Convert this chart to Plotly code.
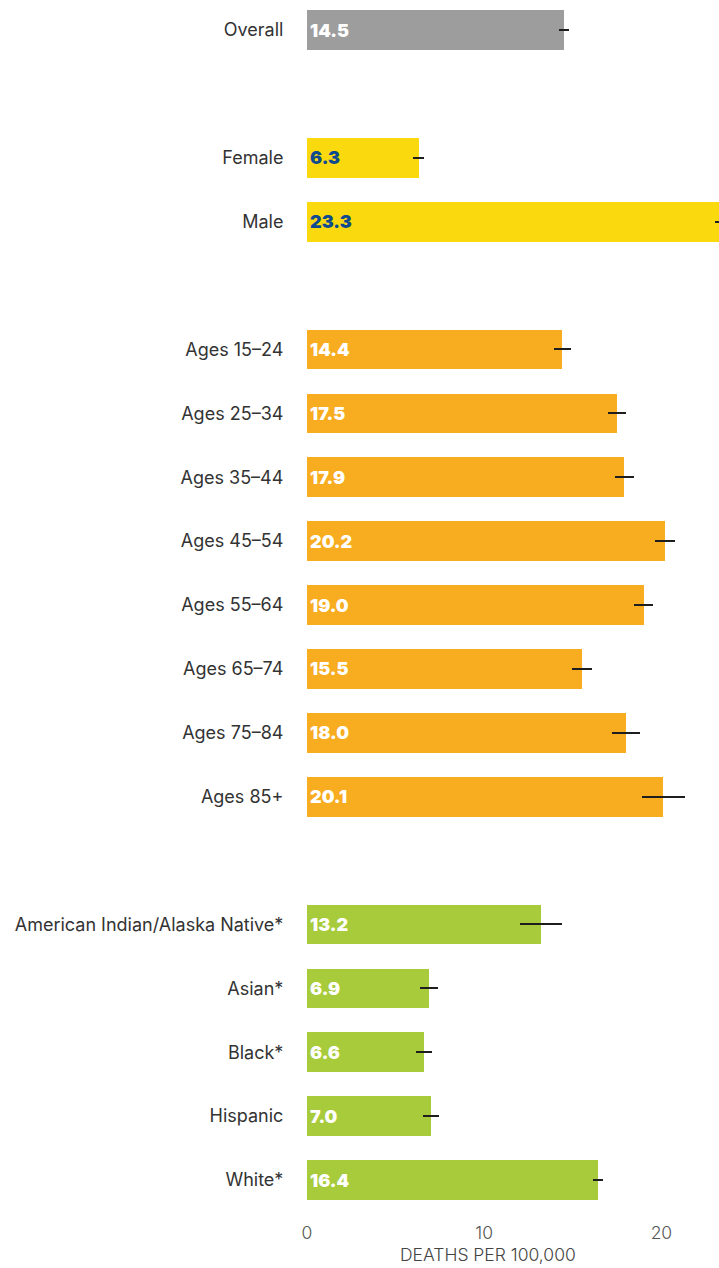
import plotly.graph_objects as go

# ---- data ----
overall_labels = ["Overall"]
overall_values = [14.5]
overall_errors = [0.22]

sex_labels = ["Female", "Male"]
sex_values = [6.3, 23.3]
sex_errors = [0.25, 0.22]

age_labels = ["Ages 15–24", "Ages 25–34", "Ages 35–44", "Ages 45–54",
              "Ages 55–64", "Ages 65–74", "Ages 75–84", "Ages 85+"]
age_values = [14.4, 17.5, 17.9, 20.2, 19.0, 15.5, 18.0, 20.1]
age_errors = [0.42, 0.45, 0.48, 0.53, 0.48, 0.50, 0.76, 1.15]

race_labels = ["American Indian/Alaska Native*", "Asian*", "Black*", "Hispanic", "White*"]
race_values = [13.2, 6.9, 6.6, 7.0, 16.4]
race_errors = [1.15, 0.45, 0.37, 0.37, 0.22]

x_ticks = [0, 10, 20]
x_title = "DEATHS PER 100,000"

groups = [
    (overall_labels, overall_values, overall_errors, "#9d9d9d", "#ffffff"),
    (sex_labels, sex_values, sex_errors, "#fad90f", "#0d4a8e"),
    (age_labels, age_values, age_errors, "#f8ac20", "#ffffff"),
    (race_labels, race_values, race_errors, "#a7cb3b", "#ffffff"),
]

fig = go.Figure()
tickvals, ticktext = [], []
slot = 0
for labels, values, errors, color, tcolor in groups:
    ys = list(range(slot, slot + len(labels)))
    fig.add_trace(go.Bar(
        x=values, y=ys, orientation="h",
        marker=dict(color=color, line=dict(width=0)),
        width=0.62,
        text=[f"{v:.1f}" for v in values],
        textposition="inside", insidetextanchor="start",
        textfont=dict(family="Inter", size=18, color=tcolor, weight=900),
        error_x=dict(type="data", array=errors, color="#1e1e1e", thickness=2, width=1),
        hoverinfo="skip", showlegend=False,
    ))
    tickvals += ys
    ticktext += labels
    slot += len(labels) + 1

fig.update_layout(
    width=719, height=1268,
    margin=dict(l=307, r=0, t=0, b=56),
    plot_bgcolor="white", paper_bgcolor="white",
    bargap=0, uniformtext=dict(minsize=18, mode="show"),
    font=dict(family="Inter", color="#333333"),
    annotations=[dict(
        text=x_title, x=10.2, xref="x", y=-0.035, yref="paper",
        xanchor="center", yanchor="middle", showarrow=False,
        font=dict(size=17.5, color="#444444", weight=300),
    )],
)
fig.update_xaxes(
    range=[0, 23.25], tickvals=x_ticks, showgrid=False, zeroline=False,
    showline=False, ticks="outside", ticklen=5, tickcolor="rgba(0,0,0,0)",
    tickfont=dict(size=17.5, color="#555555", weight=300),
    fixedrange=True,
)
fig.update_yaxes(
    range=[18.5, -0.47], tickvals=tickvals, ticktext=ticktext,
    showgrid=False, zeroline=False, showline=False,
    ticks="outside", ticklen=19, tickcolor="rgba(0,0,0,0)",
    tickfont=dict(size=18, color="#333333"),
    fixedrange=True,
)

fig.write_html(
    "out.html",
    config={"displayModeBar": False, "staticPlot": True},
    post_script="document.body.style.margin='0';document.body.style.overflow='hidden';",
)
